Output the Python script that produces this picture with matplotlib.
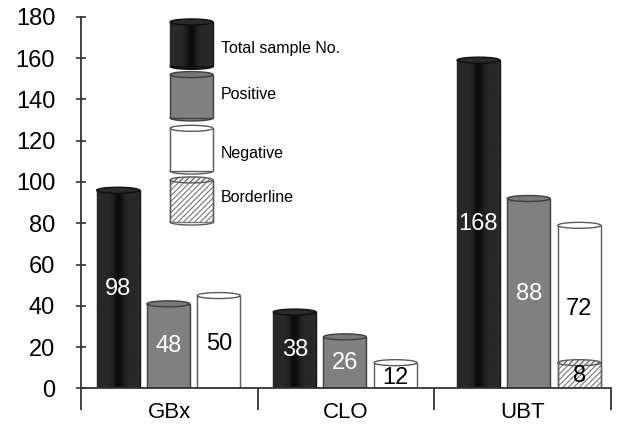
import numpy as np
import matplotlib
matplotlib.use('Agg')
import matplotlib.pyplot as plt
from matplotlib.patches import Ellipse

# data
groups = ['GBx', 'CLO', 'UBT']
series = ['Total sample No.', 'Positive', 'Negative', 'Borderline']
total = [96, 37, 159]
positive = [41, 25, 92]
negative = [45, 12.5, 66.5]
borderline = [0, 0, 12.5]
total_lbl = ['98', '38', '168']
positive_lbl = ['48', '26', '88']
negative_lbl = ['50', '12', '72']
borderline_lbl = ['', '', '8']

plt.rcParams['font.family'] = ['Liberation Sans', 'DejaVu Sans']
plt.rcParams['hatch.linewidth'] = 0.8

fig = plt.figure(figsize=(6.21, 4.25), dpi=100)
ax = fig.add_axes([0.1304, 0.0859, 0.8535, 0.8746])
ax.set_xlim(-0.5, 2.5)
ax.set_ylim(0, 180)

W = 0.243
EH = 2.9          # ellipse height in data units (~6 px)
offsets = [-0.29, -0.006, 0.28]
shift = [0, 0, 0.04]
x = np.arange(len(groups)) + np.array(shift)

styles = {
    'total': dict(face='#1c1c1c', edge='#101010', top='#2a2a2a', txt='white'),
    'positive': dict(face='#808080', edge='#404040', top='#787878', txt='white'),
    'negative': dict(face='white', edge='#5a5a5a', top='white', txt='black'),
    'border': dict(face='white', edge='#5a5a5a', top='#f0f0f0', txt='black'),
}

grad_t = np.linspace(0, 1, 60)
grad = 0.16 - 0.11 * np.exp(-((grad_t - 0.5) / 0.13) ** 2)
grad = grad[np.newaxis, :]


def caps(ax, xc, y0, y1, st, hatch=None, bottom=True):
    # top/bottom ellipse of a cylinder
    if bottom:
        ax.add_patch(Ellipse((xc, y0), W, EH, facecolor=st['face'], edgecolor=st['edge'],
                             lw=1, zorder=1))
    ax.add_patch(Ellipse((xc, y1), W, EH, facecolor=st['top'], edgecolor=st['edge'],
                         lw=1, zorder=4, hatch=hatch))


def draw_series(ax, xs, heights, bottoms, st, hatch=None, shade=False):
    bars = ax.bar(xs, heights, W, bottom=bottoms, color=st['face'], edgecolor=st['edge'],
                  lw=1, zorder=2)
    for b in bars:
        if b.get_height() <= 0:
            continue
        if hatch:
            b.set_hatch(hatch)
            b.set_edgecolor('#777777')
            ax.plot([b.get_x(), b.get_x()], [b.get_y(), b.get_y() + b.get_height()],
                    color=st['edge'], lw=1, zorder=3)
            ax.plot([b.get_x() + W, b.get_x() + W], [b.get_y(), b.get_y() + b.get_height()],
                    color=st['edge'], lw=1, zorder=3)
        if shade:
            im = ax.imshow(grad, extent=[b.get_x(), b.get_x() + W, b.get_y(),
                                         b.get_y() + b.get_height()],
                           cmap='gray', vmin=0, vmax=1, aspect='auto', zorder=2.5)
            im.set_clip_path(b)
        caps(ax, b.get_x() + W / 2, b.get_y(), b.get_y() + b.get_height(), st,
             hatch=hatch, bottom=(b.get_y() == 0))
    return bars


draw_series(ax, x + offsets[0], total, 0, styles['total'], shade=True)
draw_series(ax, x + offsets[1], positive, 0, styles['positive'])
draw_series(ax, x + offsets[2], borderline, 0, styles['border'], hatch='//////')
draw_series(ax, x + offsets[2], negative, borderline, styles['negative'])

# value labels
vfont = dict(fontsize=17, ha='center', va='center', zorder=6)
for i in range(len(groups)):
    ax.text(x[i] + offsets[0], total[i] / 2, total_lbl[i], color='white', **vfont)
    ax.text(x[i] + offsets[1], positive[i] / 2, positive_lbl[i], color='white', **vfont)
    top_neg = negative[i] + borderline[i]
    ax.text(x[i] + offsets[2], top_neg / 2 - 1, negative_lbl[i], color='black', **vfont)
    if borderline_lbl[i]:
        ax.text(x[i] + offsets[2], borderline[i] / 2, borderline_lbl[i], color='black', **vfont)

# legend drawn as cylinders
leg_x = 0.126
leg_y = [(156, 177.5), (131, 152), (105.3, 126), (80.6, 101)]
leg_st = ['total', 'positive', 'negative', 'border']
leg_ty = [164.5, 142.6, 114, 92.7]
for (y0, y1), key, ty, name in zip(leg_y, leg_st, leg_ty, series):
    st = styles[key]
    h = '//////' if key == 'border' else None
    b = ax.bar(leg_x, y1 - y0, W, bottom=y0, color=st['face'], edgecolor=st['edge'],
               lw=1, zorder=2)[0]
    if h:
        b.set_hatch(h)
        b.set_edgecolor('#777777')
        ax.plot([leg_x - W / 2] * 2, [y0, y1], color=st['edge'], lw=1, zorder=3)
        ax.plot([leg_x + W / 2] * 2, [y0, y1], color=st['edge'], lw=1, zorder=3)
    if key == 'total':
        im = ax.imshow(grad, extent=[leg_x - W / 2, leg_x + W / 2, y0, y1],
                       cmap='gray', vmin=0, vmax=1, aspect='auto', zorder=2.5)
        im.set_clip_path(b)
    caps(ax, leg_x, y0, y1, st, hatch=h)
    ax.text(0.292, ty, name, fontsize=11.5, ha='left', va='center')

ax.set_xlim(-0.5, 2.5)
ax.set_ylim(0, 180)

# axes styling
for s in ['top', 'right']:
    ax.spines[s].set_visible(False)
ax.spines['left'].set_color('#333333')
ax.spines['bottom'].set_color('#333333')
ax.spines['left'].set_linewidth(1.3)
ax.spines['bottom'].set_linewidth(1.3)

ax.set_yticks(range(0, 181, 20))
ax.tick_params(axis='y', direction='inout', length=7.2, width=1.2, color='#333333',
               pad=15, labelsize=17)
ax.set_xticks([-0.5, 0.5, 1.5, 2.5])
ax.set_xticklabels([])
ax.tick_params(axis='x', which='major', direction='out', length=15.8, width=1.3,
               color='#333333')
ax.set_xticks([0, 1, 2], minor=True)
ax.set_xticklabels(groups, minor=True)
ax.tick_params(axis='x', which='minor', length=0, pad=10, labelsize=16)

fig.savefig('out.png', dpi=100)
